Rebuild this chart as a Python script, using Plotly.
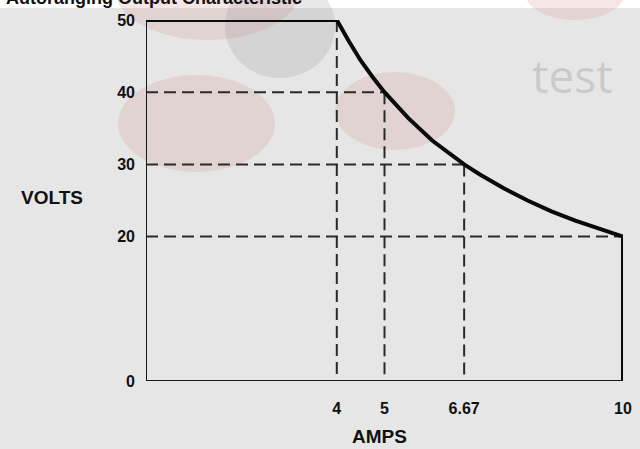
import plotly.graph_objects as go

# ---- data ----
curve_amps = [0, 4, 4.25, 4.5, 4.75, 5, 5.5, 6, 6.67, 7, 7.5, 8, 8.5, 9, 9.5, 10, 10]
curve_volts = [50, 50, 47.1, 44.4, 42.1, 40, 36.4, 33.3, 30, 28.6, 26.7, 25, 23.5, 22.2, 21.1, 20, 0]

guide_amps = [5, 6.67, 10]        # horizontal dashed guides end here
guide_volts = [40, 30, 20]
drop_amps = [4, 5, 6.67]          # vertical dashed guides
drop_volts = [50, 40, 30]

x_ticks = [4, 5, 6.67, 10]
x_ticktext = ["4", "5", "6.67", "10"]
y_ticks = [0, 20, 30, 40, 50]
y_ticktext = ["0", "20", "30", "40", "50"]

W, H = 640, 449
L, R, T, B = 146, 17, 20, 68
PW, PH = W - L - R, H - T - B


def px(x):
    return (x - L) / PW


def py(y):
    return (H - B - y) / PH


fig = go.Figure()

# dashed guides
hx, hy = [], []
for a, v in zip(guide_amps, guide_volts):
    hx += [0, a, None]
    hy += [v, v, None]
vx, vy = [], []
for a, v in zip(drop_amps, drop_volts):
    vx += [a, a, None]
    vy += [v, 0, None]
fig.add_trace(go.Scatter(x=hx + vx, y=hy + vy, mode="lines",
                         line=dict(color="#2a2a2a", width=2, dash="12px,6px"),
                         hoverinfo="skip", showlegend=False, cliponaxis=False))

# axes frame (left and bottom)
fig.add_trace(go.Scatter(x=[0, 0, 10], y=[50, 0, 0], mode="lines",
                         line=dict(color="#1a1a1a", width=2),
                         hoverinfo="skip", showlegend=False, cliponaxis=False))

# characteristic curve
fig.add_trace(go.Scatter(x=curve_amps, y=curve_volts, mode="lines",
                         line=dict(color="#0a0a0a", width=4),
                         hoverinfo="skip", showlegend=False, cliponaxis=False))

# decorative background blobs (from the scanned page)
shapes = [
    dict(type="rect", x0=px(0), x1=px(W), y0=py(0), y1=py(8),
         fillcolor="#ffffff", line_width=0),
    dict(type="circle", x0=px(115), x1=px(300), y0=py(-60), y1=py(40),
         fillcolor="rgba(215,160,160,0.26)", line_width=0),
    dict(type="circle", x0=px(225), x1=px(335), y0=py(-25), y1=py(78),
         fillcolor="rgba(140,140,140,0.2)", line_width=0),
    dict(type="circle", x0=px(118), x1=px(275), y0=py(75), y1=py(172),
         fillcolor="rgba(215,160,160,0.26)", line_width=0),
    dict(type="circle", x0=px(335), x1=px(455), y0=py(72), y1=py(150),
         fillcolor="rgba(215,160,160,0.26)", line_width=0),
    dict(type="circle", x0=px(525), x1=px(625), y0=py(-35), y1=py(20),
         fillcolor="rgba(225,170,170,0.3)", line_width=0),
]
for s in shapes:
    s.update(xref="paper", yref="paper", layer="below")

annotations = [
    dict(text="<b>Autoranging Output Characteristic</b>", x=px(4), y=py(-2),
         xanchor="left", yanchor="middle", showarrow=False,
         font=dict(family="Liberation Sans, Arial", size=18, color="#111")),
    dict(text="test", x=px(572), y=py(75), xanchor="center", yanchor="middle",
         showarrow=False,
         font=dict(family="Open Sans, DejaVu Sans", size=46, color="rgba(150,150,150,0.35)")),
    dict(text="<b>VOLTS</b>", x=px(52), y=py(198), xanchor="center", yanchor="middle",
         showarrow=False,
         font=dict(family="Liberation Sans, Arial", size=19, color="#111")),
    dict(text="<b>AMPS</b>", x=px(379), y=py(436), xanchor="center", yanchor="middle",
         showarrow=False,
         font=dict(family="Liberation Sans, Arial", size=19, color="#111")),
]
for a in annotations:
    a.update(xref="paper", yref="paper")

tickfont = dict(family="Liberation Sans Narrow, Liberation Sans, Arial", size=16, color="#111")

fig.update_layout(
    width=W, height=H,
    margin=dict(l=L, r=R, t=T, b=B, autoexpand=False),
    paper_bgcolor="#e6e6e6",
    plot_bgcolor="rgba(0,0,0,0)",
    shapes=shapes,
    annotations=annotations,
    xaxis=dict(range=[0, 10], showgrid=False, zeroline=False, showline=False,
               tickvals=x_ticks, ticktext=[f"<b>{t}</b>" for t in x_ticktext],
               ticks="", ticklabelstandoff=16, tickfont=tickfont, fixedrange=True,
               automargin=False),
    yaxis=dict(range=[0, 50], showgrid=False, zeroline=False, showline=False,
               tickvals=y_ticks, ticktext=[f"<b>{t}</b>" for t in y_ticktext],
               ticks="", ticklabelstandoff=10, tickfont=tickfont, fixedrange=True,
               automargin=False),
)

fig.write_html("out.html", config={"displayModeBar": False},
               post_script="document.body.style.margin='0';")
